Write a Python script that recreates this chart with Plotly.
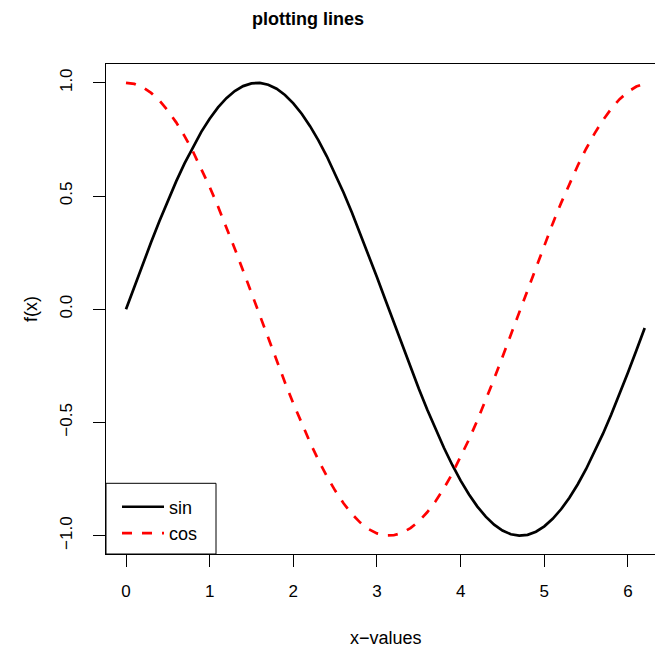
import plotly.graph_objects as go

x_values = [0.0, 0.1, 0.2, 0.3, 0.4, 0.5, 0.6, 0.7, 0.8, 0.9,
            1.0, 1.1, 1.2, 1.3, 1.4, 1.5, 1.6, 1.7, 1.8, 1.9,
            2.0, 2.1, 2.2, 2.3, 2.4, 2.5, 2.6, 2.7, 2.8, 2.9,
            3.0, 3.1, 3.2, 3.3, 3.4, 3.5, 3.6, 3.7, 3.8, 3.9,
            4.0, 4.1, 4.2, 4.3, 4.4, 4.5, 4.6, 4.7, 4.8, 4.9,
            5.0, 5.1, 5.2, 5.3, 5.4, 5.5, 5.6, 5.7, 5.8, 5.9,
            6.0, 6.1, 6.2]

sin_values = [0.0000, 0.0998, 0.1987, 0.2955, 0.3894, 0.4794, 0.5646, 0.6442, 0.7174, 0.7833,
              0.8415, 0.8912, 0.9320, 0.9636, 0.9854, 0.9975, 0.9996, 0.9917, 0.9738, 0.9463,
              0.9093, 0.8632, 0.8085, 0.7457, 0.6755, 0.5985, 0.5155, 0.4274, 0.3350, 0.2392,
              0.1411, 0.0416, -0.0584, -0.1577, -0.2555, -0.3508, -0.4425, -0.5298, -0.6119, -0.6878,
              -0.7568, -0.8183, -0.8716, -0.9162, -0.9516, -0.9775, -0.9937, -0.9999, -0.9962, -0.9825,
              -0.9589, -0.9258, -0.8835, -0.8323, -0.7728, -0.7055, -0.6313, -0.5507, -0.4646, -0.3739,
              -0.2794, -0.1822, -0.0831]

cos_values = [1.0000, 0.9950, 0.9801, 0.9553, 0.9211, 0.8776, 0.8253, 0.7648, 0.6967, 0.6216,
              0.5403, 0.4536, 0.3624, 0.2675, 0.1700, 0.0707, -0.0292, -0.1288, -0.2272, -0.3233,
              -0.4161, -0.5048, -0.5885, -0.6663, -0.7374, -0.8011, -0.8569, -0.9041, -0.9422, -0.9710,
              -0.9900, -0.9991, -0.9983, -0.9875, -0.9668, -0.9365, -0.8968, -0.8481, -0.7910, -0.7259,
              -0.6536, -0.5748, -0.4903, -0.4008, -0.3073, -0.2108, -0.1122, -0.0124, 0.0875, 0.1865,
              0.2837, 0.3780, 0.4685, 0.5544, 0.6347, 0.7087, 0.7756, 0.8347, 0.8855, 0.9275,
              0.9602, 0.9833, 0.9965]

x_ticks = [0, 1, 2, 3, 4, 5, 6]
x_tick_labels = ["0", "1", "2", "3", "4", "5", "6"]
y_ticks = [-1.0, -0.5, 0.0, 0.5, 1.0]
y_tick_labels = ["\u22121.0", "\u22120.5", "0.0", "0.5", "1.0"]

FONT = "Liberation Sans, Arial, sans-serif"

fig = go.Figure()
fig.add_trace(go.Scatter(x=x_values, y=sin_values, mode="lines", name="sin",
                         line=dict(color="black", width=2.7)))
fig.add_trace(go.Scatter(x=x_values, y=cos_values, mode="lines", name="cos",
                         line=dict(color="red", width=2.7, dash="10px,10px")))

fig.update_layout(
    width=655, height=648,
    margin=dict(l=106, r=0, t=64, b=94),
    paper_bgcolor="white", plot_bgcolor="white",
    font=dict(family=FONT, size=17, color="black"),
    showlegend=True,
    legend=dict(x=11 / 549, y=0.005, xanchor="left", yanchor="bottom",
                bgcolor="rgba(0,0,0,0)", borderwidth=0,
                font=dict(size=18), itemwidth=42, tracegroupgap=0),
    shapes=[
        dict(type="rect", xref="paper", yref="paper", x0=0, x1=110 / 549,
             y0=0, y1=70.7 / 490, line=dict(color="black", width=1),
             fillcolor="rgba(0,0,0,0)", layer="above"),
    ],
    annotations=[
        dict(text="<b>plotting lines</b>", xref="paper", yref="paper",
             x=(307.7 - 106) / 549, y=1, xanchor="center", yanchor="middle",
             yshift=64 - 19, showarrow=False, font=dict(size=18)),
        dict(text="x\u2212values", xref="paper", yref="paper",
             x=(385.5 - 106) / 549, y=0, xanchor="center", yanchor="middle",
             yshift=-(638 - 554), showarrow=False, font=dict(size=18)),
        dict(text="f(x)", xref="paper", yref="paper",
             x=0, y=0.5, xanchor="center", yanchor="middle", textangle=-90,
             xshift=31 - 106, showarrow=False, font=dict(size=18)),
    ],
)

fig.update_xaxes(range=[-0.239, 6.323], tickvals=x_ticks, ticktext=x_tick_labels,
                 ticks="outside", ticklen=12, tickwidth=1, tickcolor="black",
                 showline=True, linecolor="black", linewidth=1, mirror=True,
                 showgrid=False, zeroline=False, ticklabelstandoff=10,
                 tickfont=dict(size=17))
fig.update_yaxes(range=[-1.081, 1.083], tickvals=y_ticks, ticktext=y_tick_labels,
                 ticks="outside", ticklen=12, tickwidth=1, tickcolor="black",
                 showline=True, linecolor="black", linewidth=1, mirror=False,
                 showgrid=False, zeroline=False, tickangle=-90, ticklabelstandoff=14,
                 tickfont=dict(size=17))

fig.write_html("out.html")
